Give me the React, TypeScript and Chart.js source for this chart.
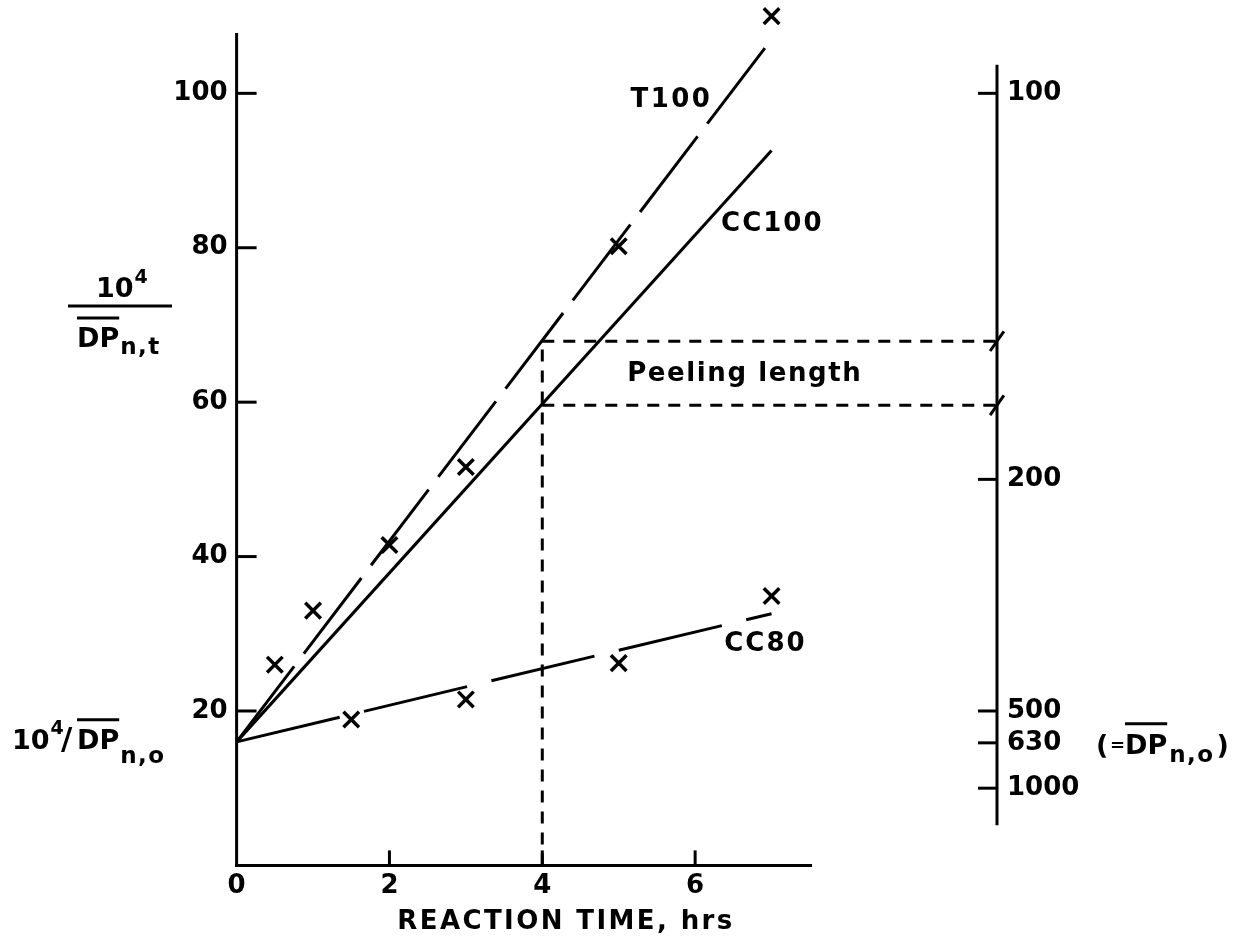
import React, { useEffect, useRef } from "react";
import { Chart, registerables } from "chart.js";

Chart.register(...registerables);

const FONT = '"DejaVu Sans", "Noto Sans", sans-serif';
const INK = "#000";

// measured points (x = reaction time, hrs; y = 10^4 / DPn,t)
const T100_TIME = [0.5, 1, 2, 3, 5, 7];
const T100_VALUE = [26, 33, 41.5, 51.6, 80.2, 110];
const CC80_TIME = [1.5, 3, 5, 7];
const CC80_VALUE = [18.9, 21.5, 26.2, 34.9];

// fitted straight lines (start / end)
const FIT_TIME = [0, 7];
const T100_FIT = [16, 107];
const CC100_FIT = [16, 92.6];
const CC80_FIT = [16, 32.6];

// peeling length construction
const PEEL_TIME = 4;
const PEEL_LEVELS = [67.9, 59.6];

// axes
const X_TICKS = [0, 2, 4, 6];
const Y_TICKS = [20, 40, 60, 80, 100];
const DP_TICKS = [100, 200, 500, 630, 1000];
const X_MIN = 0;
const X_MAX = 9.95;
const X_AXIS_END = 7.53;
const Y_MIN = 0;
const Y_MAX = 111.7;
const LEFT_AXIS_TOP = 107.8;
const RIGHT_AXIS_RANGE = [5.2, 103.7];

const CURVE_LABELS = [
  { text: "T100", x: 5.69, y: 99.1, spacing: 2.5 },
  { text: "CC100", x: 7.01, y: 83.1, spacing: 2 },
  { text: "CC80", x: 6.92, y: 28.7, spacing: 2 },
  { text: "Peeling length", x: 6.65, y: 63.6, spacing: 1.6 },
];

const pts = (xs: number[], ys: number[]) => xs.map((x, i) => ({ x, y: ys[i] }));

const annotate = {
  id: "annotate",
  afterDatasetsDraw(chart: any) {
    const ctx = chart.ctx as CanvasRenderingContext2D;
    const xs = chart.scales.x;
    const ys = chart.scales.y;
    const y2 = chart.scales.y2;
    const x0 = xs.getPixelForValue(X_MIN);
    const yBase = ys.getPixelForValue(Y_MIN);
    const xR = xs.getPixelForValue(X_MAX);
    ctx.save();
    ctx.strokeStyle = INK;
    ctx.lineWidth = 3;
    ctx.lineCap = "butt";
    ctx.setLineDash([]);
    // left y axis line
    ctx.beginPath();
    ctx.moveTo(x0, ys.getPixelForValue(LEFT_AXIS_TOP));
    ctx.lineTo(x0, yBase + 1.5);
    ctx.stroke();
    // x axis line
    ctx.beginPath();
    ctx.moveTo(x0 - 1.5, yBase);
    ctx.lineTo(xs.getPixelForValue(X_AXIS_END), yBase);
    ctx.stroke();
    // x ticks (inward)
    X_TICKS.filter((v) => v !== X_MIN).forEach((v) => {
      const px = xs.getPixelForValue(v);
      ctx.beginPath();
      ctx.moveTo(px, yBase);
      ctx.lineTo(px, yBase - 15);
      ctx.stroke();
    });
    // left y ticks (inward)
    Y_TICKS.forEach((v) => {
      const py = ys.getPixelForValue(v);
      ctx.beginPath();
      ctx.moveTo(x0, py);
      ctx.lineTo(x0 + 20, py);
      ctx.stroke();
    });
    // right axis
    ctx.beginPath();
    ctx.moveTo(xR, y2.getPixelForValue(RIGHT_AXIS_RANGE[1]));
    ctx.lineTo(xR, y2.getPixelForValue(RIGHT_AXIS_RANGE[0]));
    ctx.stroke();
    DP_TICKS.forEach((dp) => {
      const py = y2.getPixelForValue(1e4 / dp);
      ctx.beginPath();
      ctx.moveTo(xR, py);
      ctx.lineTo(xR - 19, py);
      ctx.stroke();
    });
    ctx.restore();
  },
  afterDraw(chart: any) {
    const ctx = chart.ctx as CanvasRenderingContext2D;
    const xs = chart.scales.x;
    const ys = chart.scales.y;
    const y2 = chart.scales.y2;
    ctx.save();
    ctx.fillStyle = INK;
    ctx.strokeStyle = INK;
    ctx.lineWidth = 3;
    ctx.setLineDash([]);
    const setFont = (size: number, spacing = 0) => {
      ctx.font = `bold ${size}px ${FONT}`;
      (ctx as any).letterSpacing = `${spacing}px`;
    };
    const text = (t: string, x: number, y: number, size: number, spacing = 0) => {
      setFont(size, spacing);
      ctx.fillText(t, x, y);
      return ctx.measureText(t).width;
    };
    const hline = (xa: number, xb: number, y: number) => {
      ctx.beginPath();
      ctx.moveTo(xa, y);
      ctx.lineTo(xb, y);
      ctx.stroke();
    };

    // curve labels
    ctx.textAlign = "center";
    ctx.textBaseline = "middle";
    CURVE_LABELS.forEach((l) => {
      setFont(26, l.spacing);
      ctx.fillText(l.text, xs.getPixelForValue(l.x), ys.getPixelForValue(l.y));
    });

    // x axis title
    ctx.textBaseline = "alphabetic";
    setFont(26, 2.4);
    ctx.fillText("REACTION TIME, hrs", 566, 929);

    ctx.textAlign = "left";
    // y axis title: 10^4 / DPn,t
    let w = text("10", 96, 297, 27, 0);
    text("4", 96 + w + 1, 283, 19);
    hline(68, 172, 306);
    w = text("DP", 77, 347, 27);
    hline(77, 77 + w, 318);
    text("n,t", 77 + w + 1, 354, 23, 1.5);

    // intercept label: 10^4/DPn,o
    const yi = ys.getPixelForValue(CC80_FIT[0]);
    const bi = yi + 7;
    w = text("10", 12, bi, 27, 0);
    text("4", 12 + w + 1, bi - 15, 19);
    text("/", 61, bi, 31);
    w = text("DP", 77, bi, 27);
    hline(77, 77 + w, bi - 29);
    text("n,o", 77 + w + 1, bi + 14, 23, 1.5);

    // right label (=DPn,o) beside the 630 tick
    const yr = y2.getPixelForValue(1e4 / 630);
    const br = yr + 11;
    text("(", 1096, br, 27);
    text("=", 1110, br - 3, 18);
    w = text("DP", 1125, br, 27);
    hline(1125, 1125 + w, br - 30);
    const w2 = text("n,o", 1125 + w + 2, br + 8, 23, 1.5);
    text(")", 1125 + w + 2 + w2 + 2, br, 27);
    ctx.restore();
  },
};

export default function App() {
  const ref = useRef<HTMLCanvasElement>(null);
  useEffect(() => {
    if (!ref.current) return;
    Chart.defaults.font.family = FONT;
    Chart.defaults.color = INK;
    const tickFont = { size: 26, family: FONT, weight: "bold" as const };
    const lineDs = (data: any[], dash: number[]) => ({
      type: "scatter" as const,
      data,
      showLine: true,
      borderColor: INK,
      backgroundColor: INK,
      borderWidth: 3,
      borderDash: dash,
      pointRadius: 0,
      clip: false as any,
    });
    const markDs = (data: any[]) => ({
      type: "scatter" as const,
      data,
      showLine: false,
      borderColor: INK,
      backgroundColor: INK,
      pointStyle: "crossRot" as const,
      pointRadius: 11,
      pointBorderWidth: 3.5,
      clip: false as any,
    });
    const noPad = (s: any) => {
      s.paddingTop = 0;
      s.paddingBottom = 0;
    };
    const chart = new Chart(ref.current, {
      type: "scatter",
      data: {
        datasets: [
          lineDs(pts(FIT_TIME, T100_FIT), [95, 16]),
          lineDs(pts(FIT_TIME, CC100_FIT), []),
          lineDs(pts(FIT_TIME, CC80_FIT), [106, 25]),
          markDs(pts(T100_TIME, T100_VALUE)),
          markDs(pts(CC80_TIME, CC80_VALUE)),
          lineDs(
            [
              { x: PEEL_TIME, y: Y_MIN },
              { x: PEEL_TIME, y: PEEL_LEVELS[0] },
            ],
            [12, 9]
          ),
          lineDs(
            [
              { x: PEEL_TIME, y: PEEL_LEVELS[0] },
              { x: X_MAX, y: PEEL_LEVELS[0] },
            ],
            [12, 9]
          ),
          lineDs(
            [
              { x: PEEL_TIME, y: PEEL_LEVELS[1] },
              { x: X_MAX, y: PEEL_LEVELS[1] },
            ],
            [12, 9]
          ),
          {
            type: "scatter" as const,
            data: PEEL_LEVELS.map((y) => ({ x: X_MAX, y })),
            showLine: false,
            borderColor: INK,
            pointStyle: "line" as const,
            pointRadius: 12,
            pointBorderWidth: 3,
            rotation: -55,
            clip: false as any,
          } as any,
        ],
      },
      options: {
        animation: false,
        responsive: false,
        devicePixelRatio: 1,
        layout: { autoPadding: false, padding: { top: 3, left: 0, right: 0, bottom: 0 } },
        plugins: { legend: { display: false }, tooltip: { enabled: false } },
        scales: {
          x: {
            type: "linear",
            position: "bottom",
            min: X_MIN,
            max: X_MAX,
            grid: { display: false, drawTicks: false },
            border: { display: false },
            ticks: { font: tickFont, color: INK, padding: 5, maxRotation: 0 },
            afterBuildTicks: (s: any) => {
              s.ticks = X_TICKS.map((value) => ({ value }));
            },
            afterFit: (s: any) => {
              s.height = 944 - 865.4;
            },
          },
          y: {
            type: "linear",
            position: "left",
            min: Y_MIN,
            max: Y_MAX,
            grid: { display: false, drawTicks: false },
            border: { display: false },
            ticks: { font: tickFont, color: INK, padding: 9 },
            afterBuildTicks: (s: any) => {
              s.ticks = Y_TICKS.map((value) => ({ value }));
            },
            afterFit: (s: any) => {
              s.width = 236.6;
              noPad(s);
            },
          },
          y2: {
            type: "linear",
            position: "right",
            min: Y_MIN,
            max: Y_MAX,
            grid: { display: false, drawOnChartArea: false, drawTicks: false },
            border: { display: false },
            ticks: {
              font: tickFont,
              color: INK,
              padding: 10,
              callback: (v: any) => String(Math.round(1e4 / Number(v))),
            },
            afterBuildTicks: (s: any) => {
              s.ticks = DP_TICKS.map((dp) => ({ value: 1e4 / dp }));
            },
            afterFit: (s: any) => {
              s.width = 1238 - 997;
              noPad(s);
            },
          },
        },
      } as any,
      plugins: [annotate],
    });
    return () => chart.destroy();
  }, []);
  return (
    <div style={{ position: "absolute", left: 0, top: 0, width: 1238, height: 944, background: "#fff" }}>
      <canvas ref={ref} width={1238} height={944} style={{ display: "block", width: 1238, height: 944 }} />
    </div>
  );
}
